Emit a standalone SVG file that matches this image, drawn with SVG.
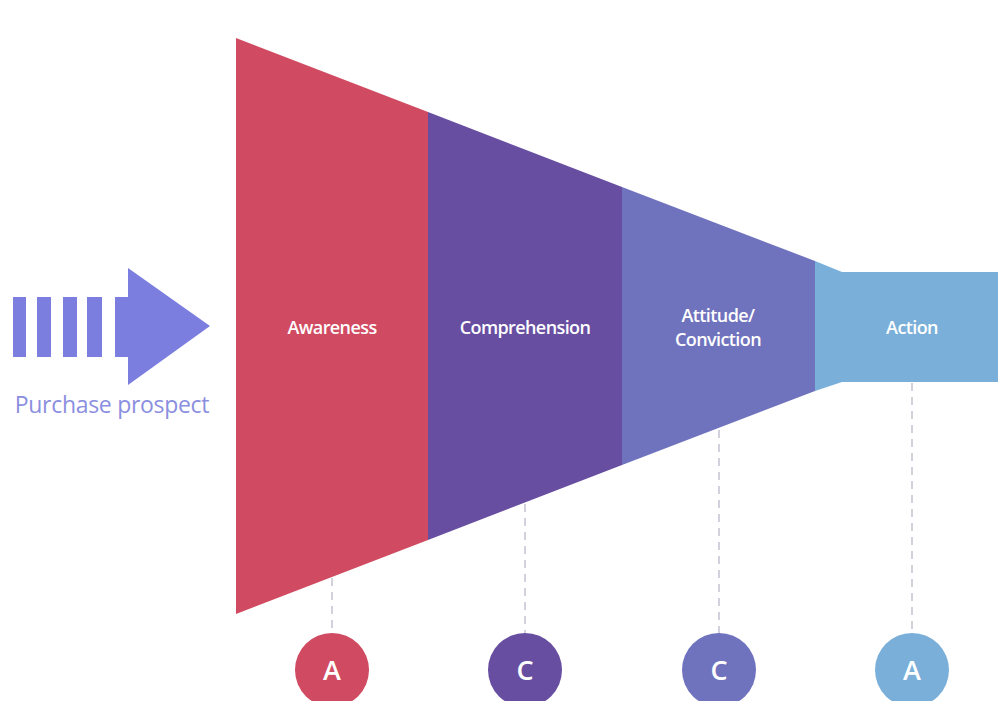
<svg xmlns="http://www.w3.org/2000/svg" width="998" height="701" viewBox="0 0 998 701">
<style>
.lbl{font-family:"Open Sans","Liberation Sans",sans-serif;font-size:18px;font-weight:600;fill:#fff;text-anchor:middle;letter-spacing:-0.6px}
.let{font-family:"Open Sans","Liberation Sans",sans-serif;font-size:27px;font-weight:600;fill:#fff;text-anchor:middle}
.dash{stroke:#c4c4d2;stroke-width:1.5;stroke-dasharray:8 6;fill:none}
</style>
<rect width="998" height="701" fill="#fff"/>
<g id="prospect">
<g fill="#7b7edf">
<rect x="13" y="297" width="13" height="60"/>
<rect x="37" y="297" width="14" height="60"/>
<rect x="63" y="297" width="14" height="60"/>
<rect x="87" y="297" width="15" height="60"/>
<polygon points="115,297 128,297 128,268 210,326 128,385 128,357 115,357"/>
</g>
<text x="112" y="413" text-anchor="middle" font-family="'Open Sans','Liberation Sans',sans-serif" font-size="23" fill="#8b8fdf" letter-spacing="-0.3">Purchase prospect</text>
</g>
<g id="connectors">
<line class="dash" x1="332" y1="578" x2="332" y2="633"/>
<line class="dash" x1="525" y1="504" x2="525" y2="633"/>
<line class="dash" x1="719" y1="430" x2="719" y2="633"/>
<line class="dash" x1="912" y1="383" x2="912" y2="633"/>
</g>
<g id="awareness">
<polygon points="236,38 428,112 428,540 236,614" fill="#d04a61"/>
<text class="lbl" x="332" y="334">Awareness</text>
</g>
<g id="comprehension">
<polygon points="428,112 622,187 622,465 428,540" fill="#674ea1"/>
<text class="lbl" x="525" y="334">Comprehension</text>
</g>
<g id="attitude">
<polygon points="622,187 815,261 815,391 622,465" fill="#6f72bd"/>
<text class="lbl" x="718" y="322">Attitude/</text>
<text class="lbl" x="718" y="346">Conviction</text>
</g>
<g id="action">
<polygon points="815,261 842,272 998,272 998,382 842,382 815,391" fill="#7aafd9"/>
<text class="lbl" x="912" y="334">Action</text>
</g>
<g id="circleA1"><circle cx="332" cy="670" r="37" fill="#d04a61"/><text class="let" x="332" y="680">A</text></g>
<g id="circleC1"><circle cx="525" cy="670" r="37" fill="#674ea1"/><text class="let" x="525" y="680">C</text></g>
<g id="circleC2"><circle cx="719" cy="670" r="37" fill="#6f72bd"/><text class="let" x="719" y="680">C</text></g>
<g id="circleA2"><circle cx="912" cy="670" r="37" fill="#7aafd9"/><text class="let" x="912" y="680">A</text></g>
</svg>
